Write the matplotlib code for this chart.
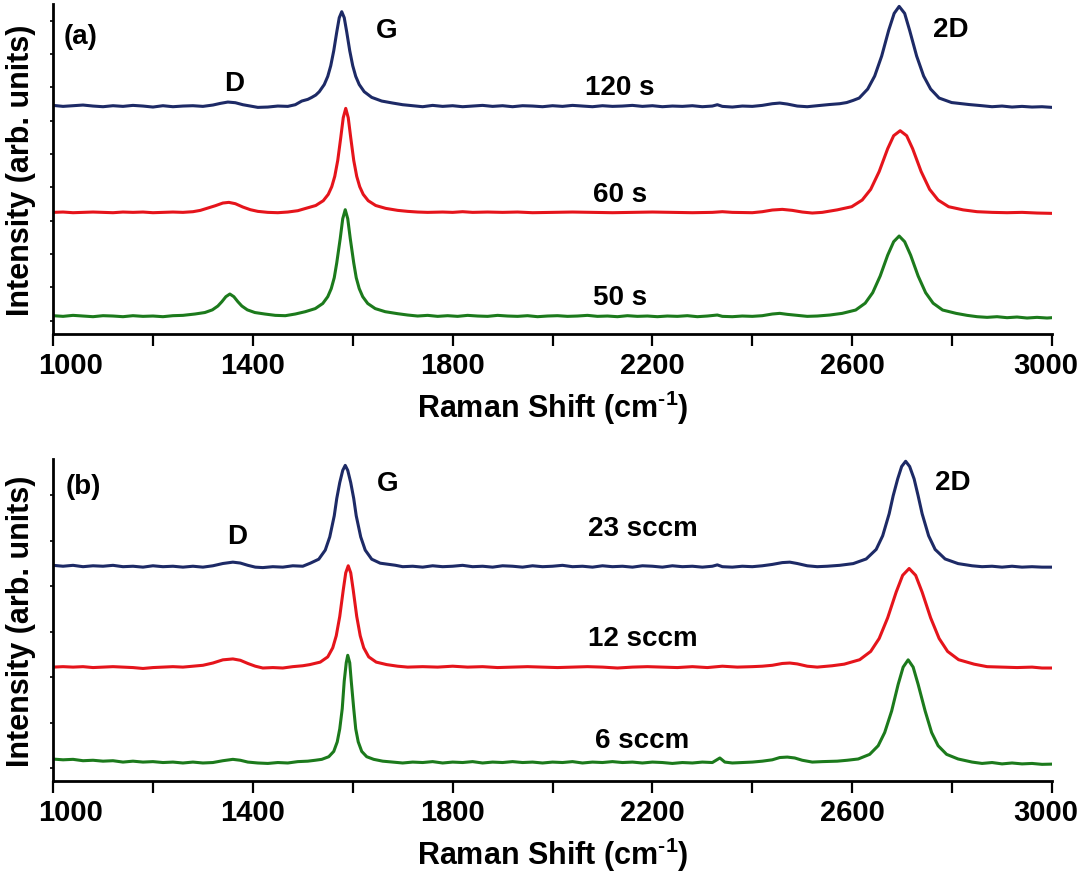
import numpy as np
import matplotlib.pyplot as plt
from matplotlib.ticker import MultipleLocator
from matplotlib.transforms import ScaledTranslation

plt.rcParams['font.family'] = ['Liberation Sans', 'DejaVu Sans']
plt.rcParams['font.weight'] = 'bold'
plt.rcParams['axes.labelweight'] = 'bold'
plt.rcParams['mathtext.fontset'] = 'custom'
plt.rcParams['mathtext.rm'] = 'Liberation Sans:bold'
plt.rcParams['mathtext.default'] = 'rm'

# Raman spectra: (shift cm-1, intensity above own baseline, arb.)
# ---- panel (a): growth time ----
spec_120s = [
    (1000, 20), (1020, -10), (1040, 10), (1060, 30), (1080, 0), (1100, -20), (1120, 10), (1140, -10),
    (1160, 20), (1180, 0), (1200, -30), (1220, 10), (1240, -20), (1260, 0), (1280, 10), (1300, -10),
    (1320, 30), (1335, 80), (1350, 120), (1365, 100), (1380, 40), (1395, 0), (1410, -40), (1430, -30),
    (1450, 0), (1470, -10), (1485, 40), (1498, 150), (1510, 200), (1518, 260), (1526, 330), (1533, 430),
    (1543, 645), (1550, 890), (1556, 1210), (1562, 1660), (1568, 2220), (1573, 2650), (1578, 2830),
    (1583, 2650), (1588, 2220), (1594, 1660), (1600, 1210), (1606, 890), (1613, 645), (1623, 430),
    (1638, 260), (1658, 150), (1680, 90), (1700, 40), (1720, 10), (1740, -20), (1760, 20), (1780, -10),
    (1800, 10), (1820, -20), (1840, 0), (1860, 20), (1880, -10), (1900, 10), (1920, -20), (1940, 10),
    (1960, 0), (1980, -20), (2000, 10), (2020, -10), (2040, 20), (2060, 0), (2080, -20), (2100, 10),
    (2120, -10), (2140, 0), (2160, 20), (2180, -10), (2200, 10), (2220, -20), (2240, 0), (2260, -10),
    (2280, 10), (2300, -20), (2320, 0), (2330, 40), (2340, -10), (2360, -30), (2380, 0), (2400, -10),
    (2420, 20), (2440, 70), (2455, 90), (2470, 60), (2490, 0), (2510, -20), (2530, 10), (2554, 45),
    (2575, 70), (2589, 105), (2602, 170), (2614, 240), (2631, 510), (2645, 900), (2659, 1500),
    (2673, 2270), (2684, 2780), (2694, 2990), (2705, 2780), (2715, 2270), (2729, 1500), (2743, 900),
    (2757, 510), (2774, 240), (2799, 105), (2834, 45), (2860, 10), (2880, -20), (2900, 0), (2920, -30),
    (2940, -10), (2960, -30), (2980, -20), (3000, -40),
]
spec_60s = [
    (1000, 0), (1020, 10), (1040, -10), (1060, 0), (1080, 10), (1100, 0), (1120, -10), (1140, 10),
    (1160, 0), (1180, 10), (1200, -10), (1220, 0), (1240, 10), (1260, 0), (1280, 20), (1295, 60),
    (1310, 130), (1325, 200), (1340, 280), (1352, 300), (1365, 260), (1380, 160), (1395, 80), (1410, 30),
    (1430, 0), (1450, -10), (1470, 10), (1490, 50), (1506, 120), (1526, 206), (1541, 350), (1551, 540),
    (1558, 770), (1564, 1080), (1570, 1560), (1576, 2240), (1581, 2840), (1586, 3120), (1591, 2840),
    (1596, 2240), (1602, 1560), (1608, 1080), (1614, 770), (1621, 540), (1631, 350), (1646, 206),
    (1666, 120), (1690, 60), (1710, 30), (1730, 10), (1750, 0), (1780, 10), (1800, 0), (1820, 20),
    (1840, 0), (1870, 10), (1900, 0), (1930, 10), (1960, -10), (2000, 0), (2040, 10), (2080, 0),
    (2120, -10), (2160, 0), (2200, 10), (2240, 0), (2280, -10), (2320, 0), (2340, 20), (2360, 0),
    (2400, -10), (2420, 20), (2440, 70), (2460, 90), (2480, 60), (2500, 10), (2520, -20), (2540, 0),
    (2570, 75), (2599, 170), (2620, 370), (2637, 690), (2654, 1225), (2671, 1910), (2683, 2300),
    (2696, 2450), (2709, 2300), (2721, 1910), (2738, 1225), (2755, 690), (2772, 370), (2793, 170),
    (2822, 75), (2850, 20), (2880, 0), (2910, -10), (2940, 0), (2970, -20), (3000, -30),
]
spec_50s = [
    (1000, 10), (1020, -10), (1040, 20), (1060, 0), (1080, -20), (1100, 10), (1120, 0), (1140, -20),
    (1160, 10), (1180, -10), (1200, 0), (1220, -20), (1240, 10), (1260, 20), (1284, 60), (1304, 105),
    (1319, 185), (1330, 300), (1338, 430), (1346, 580), (1354, 660), (1362, 580), (1370, 430),
    (1378, 300), (1389, 185), (1404, 105), (1424, 60), (1445, 20), (1465, 10), (1485, 60), (1505, 130),
    (1525, 223), (1540, 376), (1550, 580), (1557, 823), (1563, 1150), (1568, 1595), (1575, 2330),
    (1580, 2920), (1585, 3190), (1590, 2920), (1595, 2330), (1602, 1595), (1607, 1150), (1613, 823),
    (1620, 580), (1630, 376), (1645, 223), (1665, 130), (1690, 70), (1710, 30), (1730, 0), (1750, 20),
    (1770, -10), (1790, 10), (1810, -10), (1830, 20), (1850, 0), (1870, -10), (1890, 20), (1910, 0),
    (1930, -10), (1950, 10), (1970, -20), (1990, 0), (2010, 10), (2030, -10), (2050, 0), (2070, 20),
    (2090, -10), (2110, 0), (2130, -20), (2150, 10), (2170, -10), (2190, 0), (2210, -20), (2230, 0),
    (2250, -10), (2270, 10), (2290, -20), (2310, 0), (2330, 30), (2340, -10), (2360, -20), (2380, 0),
    (2400, -10), (2420, 10), (2440, 60), (2455, 80), (2470, 50), (2490, 20), (2510, -10), (2530, 0),
    (2555, 30), (2580, 80), (2607, 180), (2626, 385), (2641, 700), (2656, 1200), (2671, 1825),
    (2683, 2230), (2694, 2400), (2705, 2230), (2717, 1825), (2732, 1200), (2747, 700), (2762, 385),
    (2781, 180), (2808, 80), (2830, 20), (2850, -20), (2870, -40), (2890, -20), (2910, -50), (2930, -30),
    (2950, -60), (2970, -40), (2990, -60), (3000, -50),
]
offsets_a = [6440, 3250, 140]
names_a = ['120 s', '60 s', '50 s']

# ---- panel (b): CH4 flow ----
spec_23 = [
    (1000, 20), (1020, 0), (1040, 20), (1060, -10), (1080, 10), (1100, 0), (1120, 20), (1140, -10),
    (1160, 0), (1180, -20), (1200, 10), (1220, -10), (1240, 0), (1260, -20), (1280, 0), (1300, -20),
    (1320, 10), (1340, 60), (1360, 90), (1375, 70), (1390, 20), (1405, -20), (1420, -30), (1440, -10),
    (1460, -20), (1480, 10), (1500, 0), (1515, 67), (1532, 155), (1545, 355), (1554, 645), (1563, 1110),
    (1568, 1490), (1574, 1840), (1580, 2110), (1585, 2220), (1590, 2110), (1596, 1840), (1602, 1490),
    (1607, 1110), (1616, 645), (1625, 355), (1638, 155), (1655, 67), (1685, 22), (1700, -10), (1720, 0),
    (1740, -20), (1760, 10), (1780, -10), (1800, 0), (1820, 20), (1840, -10), (1860, 0), (1880, -20),
    (1900, 10), (1920, 0), (1940, -20), (1960, 10), (1980, -10), (2000, 0), (2020, 20), (2040, -10),
    (2060, 0), (2080, -20), (2100, 10), (2120, -10), (2140, 0), (2160, -20), (2180, 10), (2200, 0),
    (2220, -20), (2240, 10), (2260, -10), (2280, 0), (2300, -20), (2320, 0), (2330, 30), (2340, -10),
    (2360, -20), (2380, 0), (2400, -10), (2420, 10), (2440, 40), (2460, 80), (2475, 90), (2490, 60),
    (2510, 10), (2530, -10), (2550, 0), (2575, 20), (2602, 58), (2628, 160), (2648, 370), (2661, 670),
    (2674, 1155), (2682, 1550), (2691, 1920), (2699, 2195), (2707, 2310), (2715, 2195), (2724, 1920),
    (2732, 1550), (2740, 1155), (2753, 670), (2766, 370), (2786, 160), (2812, 58), (2840, 10),
    (2860, -10), (2880, 0), (2900, -20), (2920, 0), (2940, -20), (2960, -10), (2980, -20), (3000, -20),
]
spec_12 = [
    (1000, 0), (1020, 10), (1040, 0), (1060, 10), (1080, -10), (1100, 0), (1120, 10), (1140, 0),
    (1160, -10), (1180, -30), (1200, -10), (1220, 0), (1240, 10), (1260, 0), (1280, 20), (1300, 40),
    (1320, 90), (1340, 160), (1360, 180), (1375, 150), (1390, 80), (1405, 20), (1420, -20), (1440, -10),
    (1460, -20), (1480, 10), (1500, 30), (1514, 55), (1535, 110), (1550, 225), (1560, 425), (1567, 690),
    (1574, 1115), (1581, 1695), (1586, 2075), (1591, 2230), (1596, 2075), (1601, 1695), (1608, 1115),
    (1615, 690), (1622, 425), (1632, 225), (1647, 110), (1668, 55), (1690, 20), (1710, 0), (1740, 10),
    (1770, 0), (1800, 20), (1830, 0), (1860, 10), (1890, -10), (1920, 0), (1950, 10), (1980, 0),
    (2010, -10), (2040, 0), (2070, 10), (2100, 0), (2130, -20), (2160, 0), (2190, 10), (2220, 0),
    (2250, -10), (2280, 10), (2310, -10), (2340, 20), (2370, 0), (2400, 10), (2420, 20), (2440, 40),
    (2460, 80), (2475, 90), (2490, 70), (2510, 20), (2530, 0), (2560, 30), (2584, 65), (2615, 163),
    (2637, 345), (2654, 630), (2671, 1085), (2688, 1650), (2701, 2020), (2714, 2170), (2727, 2020),
    (2740, 1650), (2757, 1085), (2774, 630), (2791, 345), (2813, 163), (2844, 65), (2870, 10),
    (2900, 0), (2930, -10), (2960, 0), (2980, -20), (3000, -20),
]
spec_6 = [
    (1000, 66), (1020, 50), (1040, 60), (1060, 30), (1080, 40), (1100, 20), (1120, 30), (1140, 0),
    (1160, 20), (1180, 0), (1200, 10), (1220, -10), (1240, 0), (1260, -20), (1280, 0), (1300, -20),
    (1320, -10), (1340, 30), (1360, 60), (1375, 40), (1390, 0), (1410, -20), (1430, -30), (1450, -10),
    (1470, -20), (1490, 10), (1510, 20), (1525, 40), (1538, 60), (1552, 118), (1562, 235), (1569, 445),
    (1574, 730), (1579, 1175), (1583, 1785), (1587, 2185), (1590, 2350), (1594, 2185), (1597, 1785),
    (1602, 1175), (1606, 730), (1611, 445), (1618, 235), (1628, 118), (1642, 60), (1660, 20), (1680, 0),
    (1700, -20), (1720, 0), (1740, -10), (1760, 10), (1780, -20), (1800, 0), (1820, -10), (1840, 10),
    (1860, -20), (1880, 0), (1900, -10), (1920, 10), (1940, -10), (1960, 0), (1980, -20), (2000, 0),
    (2020, -10), (2040, 10), (2060, -20), (2080, 0), (2100, -10), (2120, 10), (2140, -10), (2160, 0),
    (2180, -20), (2200, 0), (2220, -10), (2240, -30), (2260, -10), (2280, -20), (2300, 0), (2320, -10),
    (2335, 90), (2345, 0), (2360, -20), (2380, -10), (2400, 0), (2420, 20), (2440, 50), (2455, 100),
    (2470, 110), (2485, 90), (2500, 40), (2520, 0), (2540, 10), (2570, 20), (2590, 40), (2612, 68),
    (2635, 170), (2652, 360), (2665, 650), (2679, 1125), (2692, 1710), (2702, 2090), (2712, 2250),
    (2722, 2090), (2732, 1710), (2746, 1125), (2759, 650), (2772, 360), (2789, 170), (2812, 68),
    (2840, 0), (2860, -30), (2880, -10), (2900, -40), (2920, -20), (2940, -40), (2960, -30),
    (2980, -50), (3000, -45),
]
offsets_b = [4440, 2220, 130]
names_b = ['23 sccm', '12 sccm', '6 sccm']

xticks = [1000, 1400, 1800, 2200, 2600, 3000]
colors = ['#1d2a66', '#e5141b', '#1c7a1c']

fig = plt.figure(figsize=(10.87, 8.87), dpi=100)
ax_a = fig.add_axes([0.0488, 0.6223, 0.9190, 0.3720])
ax_b = fig.add_axes([0.0488, 0.1184, 0.9190, 0.3630])

panels = [
    (ax_a, [spec_120s, spec_60s, spec_50s], offsets_a, (-400, 9500)),
    (ax_b, [spec_23, spec_12, spec_6], offsets_b, (-286, 6800)),
]
for ax, specs, offs, ylim in panels:
    for spec, off, col in zip(specs, offs, colors):
        x, y = np.array(spec, dtype=float).T
        ax.plot(x, y + off, color=col, lw=2.2)
    ax.set_xlim(1000, 3000)
    ax.set_ylim(*ylim)
    ax.set_xticks(xticks)
    ax.xaxis.set_minor_locator(MultipleLocator(200))
    ax.yaxis.set_major_locator(MultipleLocator(1000))
    ax.tick_params(axis='x', which='both', direction='out', length=8.5, width=1.6,
                   labelsize=21, pad=4)
    ax.tick_params(axis='y', direction='out', length=2.5, width=1.2, labelleft=False)
    for s in ['top', 'right']:
        ax.spines[s].set_visible(False)
    for s in ['left', 'bottom']:
        ax.spines[s].set_linewidth(2)
    ax.set_xlabel(r'Raman Shift (cm$^{\text{-}1}$)', fontsize=22, labelpad=6)
    ax.set_ylabel('Intensity (arb. units)', fontsize=22, labelpad=10)
    # first and last tick labels sit slightly inward in the original
    labs = ax.get_xticklabels()
    labs[0].set_transform(labs[0].get_transform() + ScaledTranslation(0.18, 0, fig.dpi_scale_trans))
    labs[-1].set_transform(labs[-1].get_transform() + ScaledTranslation(-0.06, 0, fig.dpi_scale_trans))

txt = dict(fontsize=20, ha='center', va='center')
ax_a.text(1056, 8540, '(a)', **txt)
ax_a.text(1362, 7130, 'D', **txt)
ax_a.text(1667, 8720, 'G', **txt)
ax_a.text(2798, 8750, '2D', **txt)
for name, yy in zip(names_a, [7010, 3800, 710]):
    ax_a.text(2135, yy, name, **txt)

ax_b.text(1060, 6204, '(b)', **txt)
ax_b.text(1368, 5104, 'D', **txt)
ax_b.text(1669, 6270, 'G', **txt)
ax_b.text(2802, 6292, '2D', **txt)
for name, yy in zip(names_b, [5280, 2860, 616]):
    ax_b.text(2180, yy, name, **txt)

fig.savefig('out.png', dpi=100)
